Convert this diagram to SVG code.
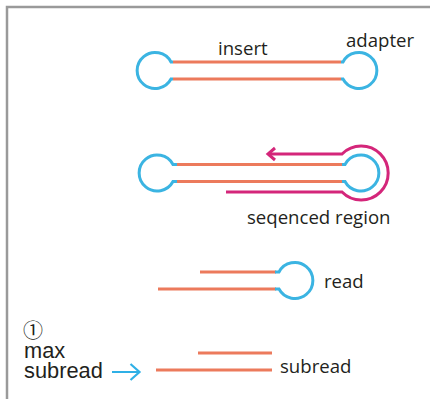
<svg xmlns="http://www.w3.org/2000/svg" width="430" height="399" viewBox="0 0 430 399">
<style>
.frame{fill:none;stroke:#9a9a9a;stroke-width:2.5}
.ad{fill:none;stroke:#3bb4e2;stroke-width:3}
.ins{fill:none;stroke:#ec7a5c;stroke-width:3}
.mg{fill:none;stroke:#d4267a;stroke-width:3}
.t{font-family:"Open Sans","Liberation Sans",sans-serif;font-size:18.6px;fill:#231f20}
.tl{font-family:"Liberation Sans",Arial,sans-serif;font-size:21.8px;fill:#231f20}
</style>
<path class="frame" d="M7,399 V7 H430"/>
<g id="molecule">
<path class="ad" d="M173,62 H171 A18,18 0 1 0 171,79 H173"/>
<path class="ad" d="M341,62 H343 A18,18 0 1 1 343,79 H341"/>
<path class="ins" d="M173,62 H341 M173,79 H341"/>
<text class="t" x="218" y="55">insert</text>
<text class="t" x="346" y="47">adapter</text>
</g>
<g id="sequencing">
<path class="ad" d="M177,164.5 H173 A18,18 0 1 0 173,181.5 H177"/>
<path class="ad" d="M342,164.5 H345 A18,18 0 1 1 345,181.5 H342"/>
<path class="ins" d="M177,164.5 H342 M177,181.5 H342"/>
<path class="mg" d="M268,154 H342 A27,27 0 1 1 342,192 H226"/>
<polyline class="mg" points="275,148 268,154 275,160"/>
<text class="t" x="247" y="224">seqenced region</text>
</g>
<g id="read">
<path class="ins" d="M200,272 H276 M158,289 H276"/>
<path class="ad" d="M275,272 H279 A18,18 0 1 1 279,289 H275"/>
<text class="t" x="324" y="288">read</text>
</g>
<g id="subread">
<path class="ins" d="M198,353 H272 M156,370 H272"/>
<text class="t" x="280" y="373">subread</text>
</g>
<g id="label">
<text x="23" y="338" style="font-family:'Noto Sans CJK JP','DejaVu Sans',sans-serif;font-size:20px;fill:#231f20">①</text>
<text class="tl" x="24" y="357.5">max</text>
<text class="tl" x="24" y="378">subread</text>
</g>
<g id="connectors">
<path d="M112,372 H139 M130.5,364 L139.5,372 L130.5,380" fill="none" stroke="#2fb0e6" stroke-width="2.2"/>
</g>
</svg>
